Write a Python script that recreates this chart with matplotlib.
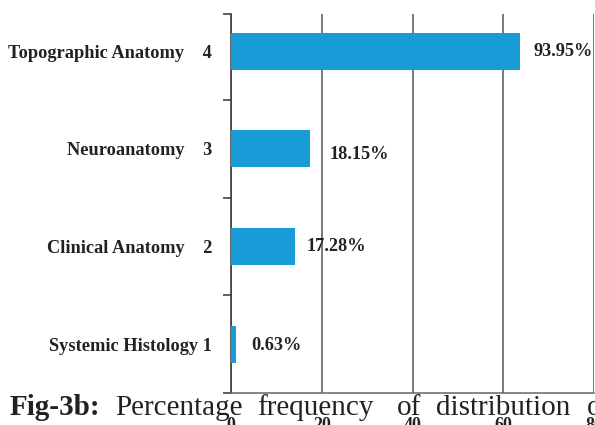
import matplotlib
matplotlib.use("Agg")
import matplotlib.pyplot as plt

categories = ["Systemic Histology 1", "Clinical Anatomy    2", "Neuroanatomy    3", "Topographic Anatomy    4"]
values = [1.1, 14.0, 17.5, 63.7]
value_labels = ["0.63%", "17.28%", "18.15%", "93.95%"]
x_ticks = [0, 20, 40, 60, 80]
caption_words = ["Fig-3b:", "Percentage", "frequency", "of", "distribution", "of"]

plt.rcParams['font.family'] = ['Liberation Serif', 'DejaVu Serif']

fig = plt.figure(figsize=(5.95, 4.25), dpi=100)
ax = fig.add_axes([231/595, 32/425, 363/595, 379/425])

pos = list(range(1, len(categories) + 1))
ax.barh(pos, values, height=0.38, color="#189BD7", zorder=3)

ax.set_xlim(0, 80)
ax.set_ylim(0.5, 4.38)
ax.set_xticks(x_ticks)
ax.set_xticklabels([str(t) for t in x_ticks], fontweight='bold', fontsize=13, color='#222222')
ax.tick_params(axis='x', length=0, pad=17)
ax.xaxis.grid(True, color='#555555', linewidth=1.1, zorder=1)

ax.set_yticks(pos)
ax.set_yticklabels(categories, fontweight='bold', fontsize=13.2, color='#222222')
ax.tick_params(axis='y', length=0, pad=13.5)
ax.set_yticks([0.5, 1.5, 2.5, 3.5, 4.38], minor=True)
ax.tick_params(axis='y', which='minor', length=6, width=1.1, color='#333333')

for s in ['top', 'right']:
    ax.spines[s].set_visible(False)
ax.spines['left'].set_color('#333333')
ax.spines['left'].set_linewidth(1.1)
ax.spines['bottom'].set_color('#666666')
ax.spines['bottom'].set_linewidth(1.1)

offsets = [(15, -1), (12, 0), (19, -6), (13, 0)]
for p, v, lab, off in zip(pos, values, value_labels, offsets):
    ax.annotate(lab, xy=(v, p), xytext=off, textcoords='offset pixels',
                ha='left', va='center', fontweight='bold', fontsize=13.2, color='#222222')

cap_x = [10, 115, 257, 397, 436, 587]
for i, (w, x) in enumerate(zip(caption_words, cap_x)):
    fig.text(x/595, 10/425, w, fontsize=21, fontweight='bold' if i == 0 else 'normal',
             color='#222222', ha='left', va='baseline', zorder=10)

fig.savefig("out.png", dpi=100)
